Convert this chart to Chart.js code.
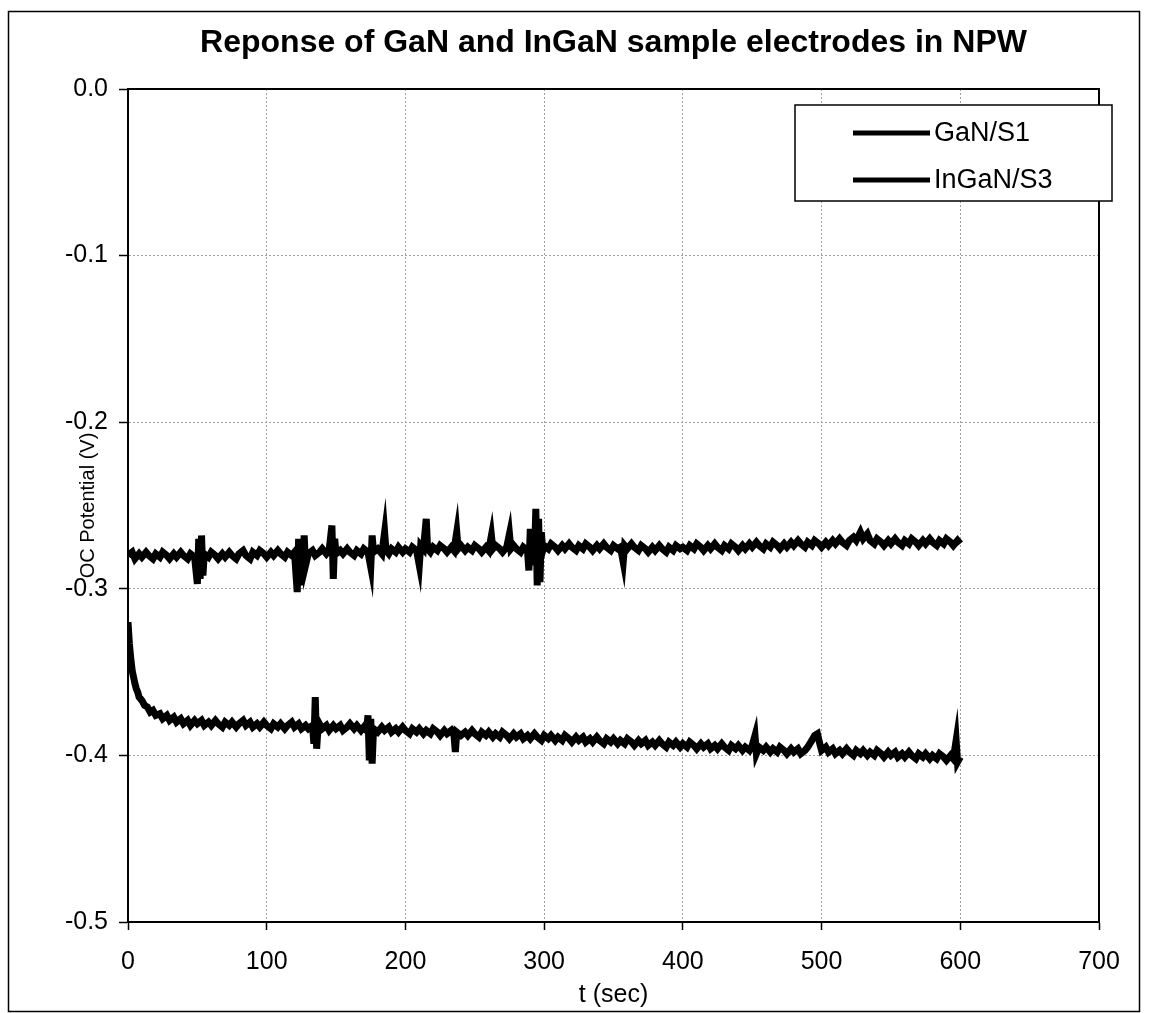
<!DOCTYPE html>
<html>
<head>
<meta charset="utf-8">
<script src="https://cdn.jsdelivr.net/npm/chart.js@4.4.1/dist/chart.umd.min.js"></script>
<style>
  html, body { margin: 0; padding: 0; background: #fff; }
  #chart { display: block; }
</style>
</head>
<body>
<canvas id="chart" width="1153" height="1013"></canvas>
<script>
// series names
const seriesNames = ['GaN/S1', 'InGaN/S3']

// GaN/S1 : time (s) and OC potential (V)
const ganT = [0,3,5,8,10,13,15,18,20,23,25,28,30,33,35,38,40,43,45,48,50,51,52,53,54,55,58,60,63,65,68,70,73,75,78,80,83,85,88,90,93,95,98,
  100,103,105,108,110,113,115,118,120,122,123,124,125,126,127,128,130,133,135,138,140,143,145,147,148,149,150,153,155,158,160,163,165,168,170,173,175,176,177,180,183,185,186,188,190,193,195,198,
  200,203,205,208,210,211,213,215,216,218,220,223,225,228,230,233,235,237,238,240,243,245,248,250,253,255,258,260,262,263,265,268,270,273,275,276,278,280,283,285,288,289,290,291,292,293,294,295,296,297,298,299,
  300,303,305,308,310,313,315,318,320,323,325,328,330,333,335,338,340,343,345,348,350,353,355,357,358,360,363,365,368,370,373,375,378,380,383,385,388,390,393,395,398,
  400,403,405,408,410,413,415,418,420,423,425,428,430,433,435,438,440,443,445,448,450,453,455,458,460,463,465,468,470,473,475,478,480,483,485,488,490,493,495,498,
  500,503,505,508,510,513,515,518,520,523,525,528,530,533,535,538,540,543,545,548,550,553,555,558,560,563,565,568,570,573,575,578,580,583,585,588,590,593,595,598,600]
const ganV = [-0.280,-0.278,-0.282,-0.279,-0.281,-0.278,-0.280,-0.282,-0.279,-0.281,-0.278,-0.280,-0.282,-0.279,-0.281,-0.278,-0.280,-0.282,-0.279,-0.281,-0.297,-0.270,-0.294,-0.268,-0.292,-0.279,-0.281,-0.278,-0.280,-0.282,-0.279,-0.281,-0.278,-0.280,-0.282,-0.279,-0.277,-0.280,-0.282,-0.278,-0.280,-0.277,-0.279,
  -0.281,-0.278,-0.280,-0.277,-0.279,-0.281,-0.278,-0.280,-0.278,-0.302,-0.270,-0.298,-0.272,-0.292,-0.268,-0.286,-0.279,-0.277,-0.280,-0.278,-0.276,-0.279,-0.277,-0.262,-0.294,-0.270,-0.279,-0.277,-0.279,-0.276,-0.278,-0.280,-0.277,-0.279,-0.276,-0.278,-0.287,-0.268,-0.278,-0.276,-0.279,-0.266,-0.277,-0.279,-0.276,-0.278,-0.275,-0.278,
  -0.276,-0.278,-0.275,-0.277,-0.286,-0.274,-0.276,-0.258,-0.276,-0.278,-0.275,-0.277,-0.274,-0.276,-0.278,-0.275,-0.277,-0.266,-0.276,-0.274,-0.277,-0.275,-0.277,-0.274,-0.276,-0.278,-0.275,-0.277,-0.268,-0.276,-0.274,-0.276,-0.278,-0.275,-0.267,-0.276,-0.274,-0.276,-0.278,-0.275,-0.277,-0.289,-0.264,-0.286,-0.266,-0.282,-0.252,-0.298,-0.258,-0.296,-0.266,-0.277,
  -0.274,-0.276,-0.273,-0.275,-0.277,-0.274,-0.276,-0.273,-0.275,-0.277,-0.274,-0.276,-0.273,-0.275,-0.277,-0.274,-0.276,-0.273,-0.275,-0.277,-0.274,-0.276,-0.275,-0.284,-0.274,-0.276,-0.273,-0.275,-0.277,-0.274,-0.276,-0.278,-0.275,-0.277,-0.274,-0.276,-0.278,-0.275,-0.277,-0.274,-0.276,
  -0.275,-0.277,-0.274,-0.276,-0.273,-0.275,-0.277,-0.274,-0.276,-0.273,-0.275,-0.277,-0.274,-0.276,-0.273,-0.275,-0.277,-0.274,-0.276,-0.273,-0.275,-0.272,-0.274,-0.276,-0.273,-0.275,-0.272,-0.274,-0.276,-0.273,-0.275,-0.272,-0.274,-0.271,-0.273,-0.275,-0.272,-0.274,-0.271,-0.273,
  -0.275,-0.272,-0.274,-0.271,-0.273,-0.270,-0.272,-0.274,-0.271,-0.269,-0.271,-0.266,-0.270,-0.267,-0.271,-0.273,-0.270,-0.272,-0.274,-0.271,-0.273,-0.270,-0.272,-0.274,-0.271,-0.273,-0.270,-0.272,-0.274,-0.271,-0.273,-0.270,-0.272,-0.274,-0.271,-0.273,-0.270,-0.272,-0.274,-0.271,-0.273]

// InGaN/S3 : time (s) and OC potential (V)
const inganT = [0,1,2,3,4,5,6,7,8,10,12,14,16,18,20,23,25,28,30,33,35,38,40,43,45,48,50,53,55,58,60,63,65,68,70,73,75,78,80,83,85,88,90,93,95,98,
  100,103,105,108,110,113,115,118,120,123,125,128,130,133,134,135,136,137,138,140,143,145,148,150,153,155,158,160,163,165,168,170,172,173,174,175,176,177,180,183,185,188,190,193,195,198,
  200,203,205,208,210,213,215,218,220,223,225,228,230,233,235,236,237,240,243,245,248,250,253,255,258,260,263,265,268,270,273,275,278,280,283,285,288,290,293,295,298,
  300,303,305,308,310,313,315,318,320,323,325,328,330,333,335,338,340,343,345,348,350,353,355,358,360,363,365,368,370,373,375,378,380,383,385,388,390,393,395,398,
  400,403,405,408,410,413,415,418,420,423,425,428,430,433,435,438,440,443,445,448,450,452,453,455,458,460,463,465,468,470,473,475,478,480,483,485,488,490,493,495,497,499,
  500,503,505,508,510,513,515,518,520,523,525,528,530,533,535,538,540,543,545,548,550,553,555,558,560,563,565,568,570,573,575,578,580,583,585,588,590,593,595,597,598,600]
const inganV = [-0.320,-0.333,-0.342,-0.349,-0.353,-0.357,-0.360,-0.362,-0.365,-0.367,-0.370,-0.371,-0.374,-0.373,-0.376,-0.375,-0.378,-0.376,-0.379,-0.377,-0.380,-0.378,-0.381,-0.379,-0.382,-0.379,-0.381,-0.379,-0.382,-0.380,-0.382,-0.379,-0.381,-0.383,-0.380,-0.382,-0.380,-0.383,-0.381,-0.379,-0.382,-0.380,-0.383,-0.381,-0.383,-0.380,
  -0.382,-0.384,-0.381,-0.383,-0.381,-0.384,-0.382,-0.380,-0.383,-0.381,-0.384,-0.382,-0.384,-0.382,-0.393,-0.365,-0.396,-0.383,-0.381,-0.384,-0.382,-0.385,-0.382,-0.384,-0.382,-0.385,-0.383,-0.381,-0.384,-0.382,-0.385,-0.383,-0.385,-0.376,-0.403,-0.378,-0.405,-0.384,-0.386,-0.383,-0.385,-0.383,-0.386,-0.384,-0.386,-0.383,
  -0.385,-0.387,-0.384,-0.386,-0.384,-0.387,-0.385,-0.387,-0.384,-0.386,-0.388,-0.385,-0.387,-0.385,-0.388,-0.398,-0.386,-0.388,-0.386,-0.388,-0.385,-0.387,-0.389,-0.386,-0.388,-0.386,-0.389,-0.387,-0.389,-0.386,-0.388,-0.390,-0.387,-0.389,-0.387,-0.390,-0.388,-0.390,-0.387,-0.389,-0.391,
  -0.388,-0.390,-0.388,-0.391,-0.389,-0.391,-0.388,-0.390,-0.392,-0.389,-0.391,-0.389,-0.392,-0.390,-0.392,-0.389,-0.391,-0.393,-0.390,-0.392,-0.390,-0.393,-0.391,-0.393,-0.390,-0.392,-0.394,-0.391,-0.393,-0.391,-0.394,-0.392,-0.394,-0.391,-0.393,-0.395,-0.392,-0.394,-0.392,-0.395,
  -0.393,-0.395,-0.392,-0.394,-0.396,-0.393,-0.395,-0.393,-0.396,-0.394,-0.396,-0.393,-0.395,-0.397,-0.394,-0.396,-0.394,-0.397,-0.395,-0.397,-0.394,-0.388,-0.399,-0.395,-0.397,-0.395,-0.398,-0.396,-0.398,-0.395,-0.397,-0.399,-0.396,-0.398,-0.396,-0.399,-0.397,-0.395,-0.391,-0.388,-0.387,-0.394,
  -0.397,-0.395,-0.398,-0.396,-0.399,-0.397,-0.399,-0.396,-0.398,-0.400,-0.397,-0.399,-0.397,-0.400,-0.398,-0.400,-0.397,-0.399,-0.401,-0.398,-0.400,-0.398,-0.401,-0.399,-0.401,-0.398,-0.400,-0.402,-0.399,-0.401,-0.399,-0.402,-0.400,-0.402,-0.399,-0.401,-0.403,-0.400,-0.402,-0.391,-0.404,-0.401]

// axis ticks
const xTicks = [0, 100, 200, 300, 400, 500, 600, 700]
const yTicks = [0.0, -0.1, -0.2, -0.3, -0.4, -0.5]

const FONT = '"Liberation Sans", Arial, sans-serif'

const toPoints = (ts, vs) => ts.map((t, i) => ({x: t, y: vs[i]}))

// frame round the whole chart + plot area border + the legend box
const framePlugin = {
    id: 'frame',
    afterDatasetsDraw(chart) {
        const {ctx, chartArea: a} = chart
        ctx.save()
        ctx.strokeStyle = '#000'
        ctx.lineWidth = 2
        ctx.strokeRect(a.left, a.top, a.right - a.left, a.bottom - a.top)
        ctx.restore()
    },
    afterDraw(chart) {
        const {ctx} = chart
        ctx.save()
        ctx.strokeStyle = '#000'
        ctx.lineWidth = 1.5
        ctx.strokeRect(8.5, 11.5, 1131, 1000)

        // legend
        const lx = 795, ly = 105, lw = 317, lh = 96
        ctx.fillStyle = '#fff'
        ctx.fillRect(lx, ly, lw, lh)
        ctx.lineWidth = 1.5
        ctx.strokeRect(lx, ly, lw, lh)
        ctx.font = '27px ' + FONT
        ctx.textBaseline = 'middle'
        ctx.fillStyle = '#000'
        chart.data.datasets.forEach((ds, i) => {
            const yy = ly + 28 + i * 47
            ctx.lineWidth = 5
            ctx.beginPath()
            ctx.moveTo(853, yy)
            ctx.lineTo(930, yy)
            ctx.stroke()
            ctx.fillText(ds.label, 934, yy + 1)
        })
        ctx.restore()
    }
}

new Chart(document.querySelector('#chart').getContext('2d'), {
    type: 'line',
    data: {
        datasets: [
            {
                label: seriesNames[0],
                data: toPoints(ganT, ganV),
                borderColor: '#000',
                borderWidth: 7,
                pointRadius: 0,
                tension: 0
            },
            {
                label: seriesNames[1],
                data: toPoints(inganT, inganV),
                borderColor: '#000',
                borderWidth: 7,
                pointRadius: 0,
                tension: 0
            }
        ]
    },
    options: {
        responsive: false,
        animation: false,
        devicePixelRatio: 1,
        layout: {padding: {left: 0, right: 54, top: 0, bottom: 0}},
        plugins: {
            legend: {display: false},
            tooltip: {enabled: false},
            title: {
                display: true,
                fullSize: false,
                text: 'Reponse of GaN and InGaN sample electrodes in NPW',
                color: '#000',
                font: {family: FONT, size: 32, weight: 'bold'},
                padding: {top: 24, bottom: 26.6},
                align: 'center'
            }
        },
        scales: {
            x: {
                type: 'linear',
                min: 0,
                max: 700,
                afterBuildTicks: s => { s.ticks = xTicks.map(v => ({value: v})) },
                afterFit: s => { s.height = 91 },
                ticks: {color: '#000', font: {family: FONT, size: 25}, padding: 17, maxRotation: 0},
                grid: {color: '#a0a0a0', lineWidth: 1, tickColor: '#000', tickLength: 8, tickWidth: 1.5},
                border: {display: true, color: '#000', width: 2, dash: [2, 2]},
                title: {display: true, text: 't (sec)', color: '#000', font: {family: FONT, size: 25}, padding: {top: 0, bottom: 3}}
            },
            y: {
                type: 'linear',
                min: -0.5,
                max: 0,
                afterBuildTicks: s => { s.ticks = yTicks.map(v => ({value: v})) },
                afterFit: s => { s.width = 128 },
                ticks: {color: '#000', font: {family: FONT, size: 25}, padding: 11, callback: v => v.toFixed(1)},
                grid: {color: '#a0a0a0', lineWidth: 1, tickColor: '#000', tickLength: 9, tickWidth: 1.5},
                border: {display: true, color: '#000', width: 2, dash: [2, 2]},
                title: {display: true, text: 'OC Potential (V)', color: '#000', font: {family: FONT, size: 20}, padding: {top: 76, bottom: 0}}
            }
        }
    },
    plugins: [framePlugin]
})
</script>
</body>
</html>
